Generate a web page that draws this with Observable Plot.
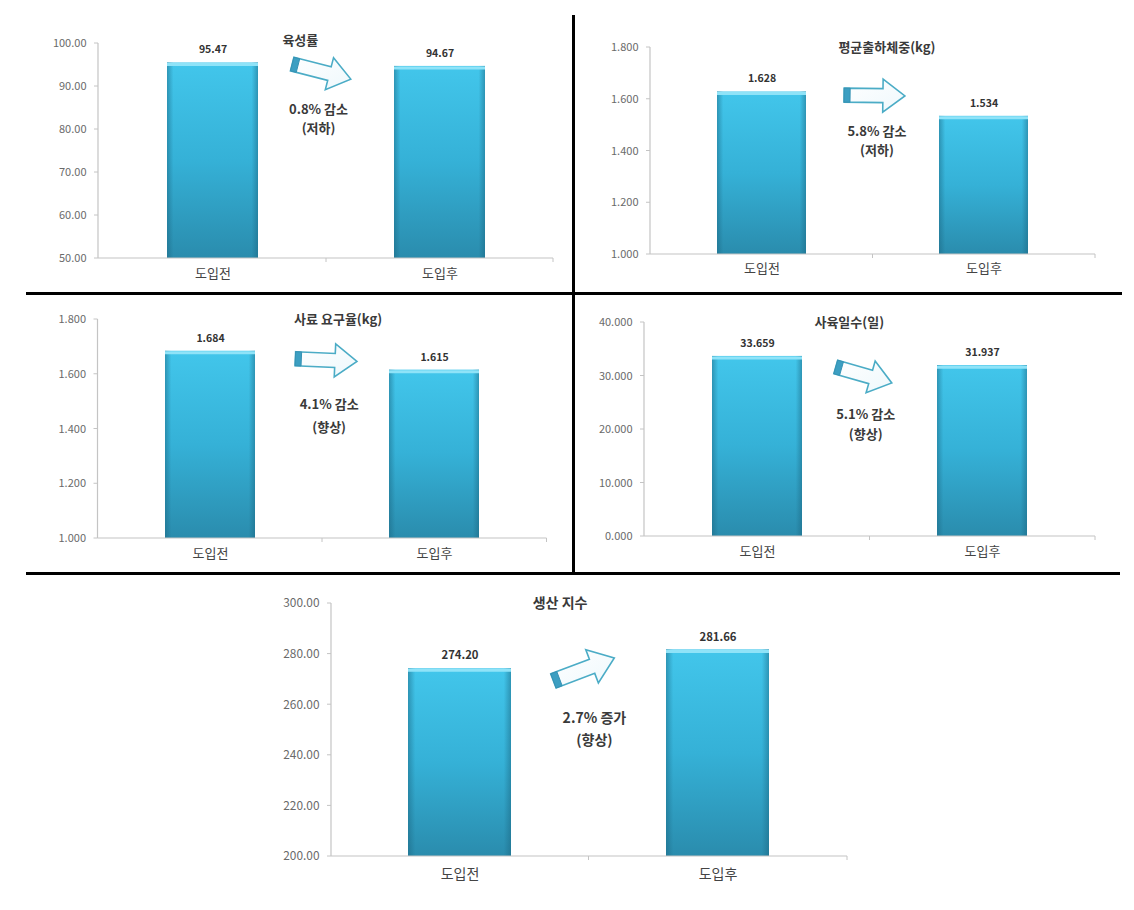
<!DOCTYPE html>
<html>
<head>
<meta charset="utf-8">
<script src="https://cdn.jsdelivr.net/npm/d3@7"></script>
<script src="https://cdn.jsdelivr.net/npm/@observablehq/plot@0.6"></script>
<style>
  body { margin: 0; background: #fff; }
  #wrap { position: relative; width: 1134px; height: 910px; overflow: hidden; background: #fff;
          font-family: "Noto Sans CJK KR", "Noto Sans", sans-serif; }
  .panel { position: absolute; }
  .rule { position: absolute; background: #000; }
</style>
</head>
<body>
<svg width="0" height="0" style="position:absolute">
  <defs>
    <linearGradient id="barGrad" x1="0" y1="0" x2="0" y2="1">
      <stop offset="0" stop-color="#42c6eb"/>
      <stop offset="0.5" stop-color="#35b1d7"/>
      <stop offset="1" stop-color="#2a8cad"/>
    </linearGradient>
    <linearGradient id="edgeGrad" x1="0" y1="0" x2="1" y2="0">
      <stop offset="0" stop-color="#1b6681" stop-opacity="0.5"/>
      <stop offset="0.07" stop-color="#1b6681" stop-opacity="0"/>
      <stop offset="0.93" stop-color="#1b6681" stop-opacity="0"/>
      <stop offset="1" stop-color="#1b6681" stop-opacity="0.5"/>
    </linearGradient>
    <linearGradient id="arrowGrad" x1="0" y1="0" x2="1" y2="1">
      <stop offset="0" stop-color="#ffffff"/>
      <stop offset="1" stop-color="#eef8fc"/>
    </linearGradient>
  </defs>
</svg>
<div id="wrap">
  <div class="rule" style="left:26px;top:292px;width:1096px;height:3px"></div>
  <div class="rule" style="left:26px;top:572px;width:1094px;height:3px"></div>
  <div class="rule" style="left:572px;top:15px;width:3px;height:559px"></div>
</div>
<script>
// ---------------- data ----------------
const categories = ["도입전", "도입후"];
const titles = ["육성률", "평균출하체중(kg)", "사료 요구율(kg)", "사육일수(일)", "생산 지수"];
const growthRate   = [95.47, 94.67];     // 육성률
const shipWeight   = [1.628, 1.534];     // 평균출하체중(kg)
const feedRate     = [1.684, 1.615];     // 사료 요구율(kg)
const rearingDays  = [33.659, 31.937];   // 사육일수(일)
const prodIndex    = [274.20, 281.66];   // 생산 지수
const changeTexts  = ["0.8% 감소", "5.8% 감소", "4.1% 감소", "5.1% 감소", "2.7% 증가"];
const effectTexts  = ["(저하)", "(저하)", "(향상)", "(향상)", "(향상)"];
const ticks1 = [50, 60, 70, 80, 90, 100];
const ticks2 = [1.0, 1.2, 1.4, 1.6, 1.8];
const ticks3 = [1.0, 1.2, 1.4, 1.6, 1.8];
const ticks4 = [0, 10, 20, 30, 40];
const ticks5 = [200, 220, 240, 260, 280, 300];

// ---------------- layout (positions / styles) ----------------
const NS = "http://www.w3.org/2000/svg";
function el(tag, attrs) {
  const e = document.createElementNS(NS, tag);
  for (const k in attrs) e.setAttribute(k, attrs[k]);
  return e;
}

const panels = [
  { values: growthRate, ticks: ticks1, digits: 2, title: titles[0], change: changeTexts[0], effect: effectTexts[0],
    box: {left: 0, top: 0, width: 570, height: 290}, m: {l: 98, r: 17, t: 43, b: 32}, catDy: 19, fs: 1,
    ann: {title: [0.387, 100.5], a0: [0.351, 95.1], a1: [0.609, 91.6], t1: [0.467, 84.65], t2: [0.467, 80.2]} },
  { values: shipWeight, ticks: ticks2, digits: 3, title: titles[1], change: changeTexts[1], effect: effectTexts[1],
    box: {left: 570, top: 0, width: 564, height: 290}, m: {l: 80, r: 39, t: 47, b: 36}, catDy: 18, fs: 1,
    ann: {title: [0.565, 1.8], a0: [0.372, 1.614], a1: [0.646, 1.611], t1: [0.52, 1.475], t2: [0.52, 1.402]} },
  { values: feedRate, ticks: ticks3, digits: 3, title: titles[2], change: changeTexts[2], effect: effectTexts[2],
    box: {left: 0, top: 290, width: 570, height: 290}, m: {l: 97.5, r: 23.5, t: 29, b: 42}, catDy: 19, fs: 1,
    ann: {title: [0.572, 1.8], a0: [0.381, 1.655], a1: [0.656, 1.645], t1: [0.532, 1.489], t2: [0.532, 1.405]} },
  { values: rearingDays, ticks: ticks4, digits: 3, title: titles[3], change: changeTexts[3], effect: effectTexts[3],
    box: {left: 570, top: 290, width: 564, height: 290}, m: {l: 74, r: 39, t: 32, b: 44}, catDy: 19, fs: 1,
    ann: {title: [0.41, 40], a0: [0.35, 31.6], a1: [0.599, 28.6], t1: [0.483, 22.8], t2: [0.483, 18.9]} },
  { values: prodIndex, ticks: ticks5, digits: 2, title: titles[4], change: changeTexts[4], effect: effectTexts[4],
    box: {left: 250, top: 580, width: 630, height: 330}, m: {l: 81, r: 33, t: 23, b: 54}, catDy: 22, fs: 1.08,
    ann: {title: [0.39, 300], a0: [0.364, 269.2], a1: [0.60, 278.3], t1: [0.523, 254.5], t2: [0.523, 245.8]} }
];

function decor(p) {
  return (index, scales, values, dims) => {
    const sx = scales.x, sy = scales.y;
    const bw = typeof sx.bandwidth === "function" ? sx.bandwidth() : (sx.bandwidth || 0);
    const c0 = sx(categories[0]) + bw / 2, c1 = sx(categories[1]) + bw / 2;
    const px = t => c0 + t * (c1 - c0);
    const L = dims.marginLeft, R = dims.width - dims.marginRight;
    const T = dims.marginTop, B = dims.height - dims.marginBottom;
    const g = el("g", {});
    const axisColor = "#c4c4c4";
    g.append(el("line", {x1: L, y1: T, x2: L, y2: B, stroke: axisColor, "stroke-width": 1.2}));
    g.append(el("line", {x1: L, y1: B, x2: R, y2: B, stroke: axisColor, "stroke-width": 1.2}));
    for (const v of p.ticks) {
      const y = sy(v);
      g.append(el("line", {x1: L - 4, y1: y, x2: L, y2: y, stroke: axisColor, "stroke-width": 1}));
    }
    for (const x of [(c0 + c1) / 2, R]) {
      g.append(el("line", {x1: x, y1: B, x2: x, y2: B + 4, stroke: axisColor, "stroke-width": 1}));
    }
    // block arrow
    const x0 = px(p.ann.a0[0]), y0 = sy(p.ann.a0[1]);
    const x1 = px(p.ann.a1[0]), y1 = sy(p.ann.a1[1]);
    const dx = x1 - x0, dy = y1 - y0, len = Math.hypot(dx, dy);
    const ux = dx / len, uy = dy / len, nx = -uy, ny = ux;
    const s = p.fs;
    const hw = 7 * s, hh = 16.5 * s, hl = 22 * s;
    const pt = (a, b) => [x0 + ux * a + nx * b, y0 + uy * a + ny * b].join(",");
    const body = [pt(0, -hw), pt(len - hl, -hw), pt(len - hl, -hh), pt(len, 0),
                  pt(len - hl, hh), pt(len - hl, hw), pt(0, hw)].join(" ");
    g.append(el("polygon", {points: body, fill: "url(#arrowGrad)", stroke: "#4bacc6", "stroke-width": 1.6,
                            "stroke-linejoin": "miter"}));
    const face = [pt(0, -hw), pt(6 * s, -hw), pt(6 * s, hw), pt(0, hw)].join(" ");
    g.append(el("polygon", {points: face, fill: "#3c9fc2", stroke: "#3592b4", "stroke-width": 1}));
    // texts
    const addText = (str, pos, size) => {
      const t = el("text", {x: px(pos[0]), y: sy(pos[1]), dy: "0.35em", "text-anchor": "middle",
                            "font-size": size, "font-weight": "bold", fill: "#3a3a3a"});
      t.textContent = str;
      g.append(t);
    };
    addText(p.title, p.ann.title, 13 * s);
    addText(p.change, p.ann.t1, 13 * s);
    addText(p.effect, p.ann.t2, 13 * s);
    return g;
  };
}

const wrap = document.getElementById("wrap");
for (const p of panels) {
  const data = categories.map((c, i) => ({cat: c, v: p.values[i]}));
  const yMin = p.ticks[0], yMax = p.ticks[p.ticks.length - 1];
  const chart = Plot.plot({
    width: p.box.width,
    height: p.box.height,
    marginLeft: p.m.l, marginRight: p.m.r, marginTop: p.m.t, marginBottom: p.m.b,
    style: {fontFamily: '"Noto Sans CJK KR", "Noto Sans", sans-serif', fontSize: (11 * p.fs) + "px",
            color: "#6a6a6a", background: "transparent", overflow: "visible"},
    x: {domain: categories, paddingInner: 0.6, paddingOuter: 0.3, axis: null},
    y: {domain: [yMin, yMax], ticks: p.ticks, tickFormat: d => d.toFixed(p.digits),
        tickSize: 0, tickPadding: 12, label: null},
    marks: [
      Plot.barY(data, {x: "cat", y1: () => yMin, y2: "v", fill: "url(#barGrad)"}),
      Plot.barY(data, {x: "cat", y1: () => yMin, y2: "v", fill: "url(#edgeGrad)"}),
      Plot.tickY(data, {x: "cat", y: "v", stroke: "#8fe3f8", strokeWidth: 3, dy: 1.5}),
      Plot.text(data, {x: "cat", y: "v", text: d => d.v.toFixed(p.digits), dy: -13,
                       fontWeight: "bold", fontSize: 10.5 * p.fs, fill: "#333"}),
      Plot.text(data, {x: "cat", text: "cat", frameAnchor: "bottom", dy: p.catDy,
                       fontSize: 13 * p.fs, fill: "#444"}),
      decor(p)
    ]
  });
  const holder = document.createElement("div");
  holder.className = "panel";
  holder.style.left = p.box.left + "px";
  holder.style.top = p.box.top + "px";
  holder.appendChild(chart);
  wrap.appendChild(holder);
}
</script>
</body>
</html>
